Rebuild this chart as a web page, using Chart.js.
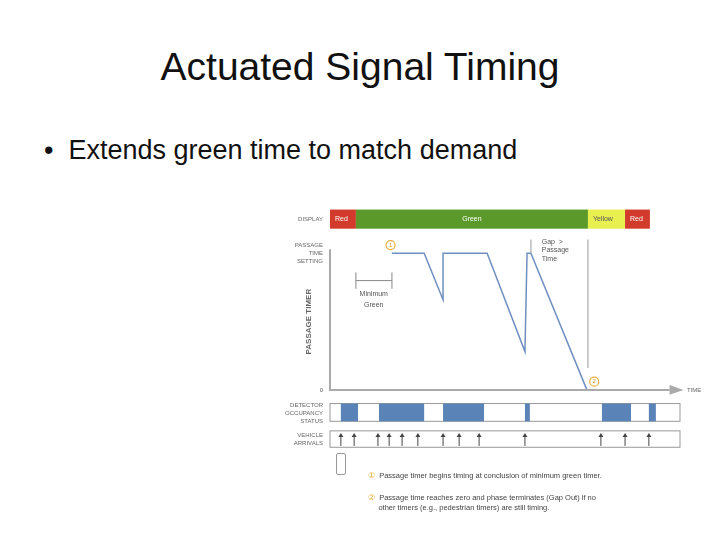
<!DOCTYPE html>
<html><head><meta charset="utf-8">
<script src="https://cdn.jsdelivr.net/npm/chart.js@4.4.0/dist/chart.umd.min.js"></script>
<style>
body{margin:0;width:720px;height:540px;background:#fff;overflow:hidden;font-family:"Liberation Sans",sans-serif;position:relative}
#title{position:absolute;top:45px;left:0;width:720px;text-align:center;font-size:39px;color:#111}
#bullet{position:absolute;top:135px;left:44px;font-size:27px;color:#111}
canvas{position:absolute;left:0;top:0}
</style></head><body>
<div id="title">Actuated Signal Timing</div>
<div id="bullet">•&nbsp; Extends green time to match demand</div>
<canvas id="c" width="720" height="540"></canvas>
<script>
// time units 0..100, passage timer 0..1
const timerT = [17.7, 26.9, 32.3, 32.3, 44.9, 55.7, 56.3, 57.4, 73.4];
const timerV = [1, 1, 0.66, 1, 1, 0.28, 1, 1, 0];
const phases = [['Red', 0, 7.4, '#d23a2c'], ['Green', 7.4, 73.7, '#5b9a2a'], ['Yellow', 73.7, 84.3, '#e8f050'], ['Red', 84.3, 91.4, '#d23a2c']];
const occupancy = [[3.1, 8.0], [14.0, 26.9], [32.3, 44.0], [55.7, 57.1], [77.7, 86.0], [91.1, 93.1]];
const arrivals = [3.1, 6.9, 13.7, 16.9, 20.6, 25.1, 32.3, 36.9, 42.6, 55.7, 77.4, 84.3, 91.1];

const deco = {
  id: 'deco',
  afterDatasetsDraw(chart) {
    const c = chart.ctx, x = chart.scales.x, y = chart.scales.y;
    const X = v => x.getPixelForValue(v), Y = v => y.getPixelForValue(v);
    c.save();
    c.textBaseline = 'middle';
    // display bar
    phases.forEach(p => {
      c.fillStyle = p[3];
      c.fillRect(X(p[1]), Y(1.32), X(p[2]) - X(p[1]), Y(1.18) - Y(1.32));
      c.fillStyle = p[0] == 'Yellow' ? '#555' : '#fff';
      c.font = '7px "Liberation Sans"';
      c.textAlign = p[0] == 'Green' ? 'center' : 'left';
      c.fillText(p[0], p[0] == 'Green' ? (X(p[1]) + X(p[2])) / 2 : X(p[1]) + 5, Y(1.25));
    });
    c.fillStyle = '#666';
    c.font = '6px "Liberation Sans"';
    c.textAlign = 'right';
    c.fillText('DISPLAY', X(-2), Y(1.25));
    c.fillText('PASSAGE', X(-2), Y(1.06));
    c.fillText('TIME', X(-2), Y(1.0));
    c.fillText('SETTING', X(-2), Y(0.94));
    c.fillText('0', X(-2), Y(0));
    ['DETECTOR', 'OCCUPANCY', 'STATUS'].forEach((t, i) => c.fillText(t, X(-2), Y(-0.11 - i * 0.06)));
    ['VEHICLE', 'ARRIVALS'].forEach((t, i) => c.fillText(t, X(-2), Y(-0.33 - i * 0.06)));
    c.textAlign = 'left';
    c.fillText('TIME', X(102), Y(0));
    // axes
    c.strokeStyle = '#aaa'; c.lineWidth = 2;
    c.beginPath(); c.moveTo(X(0), Y(1.03)); c.lineTo(X(0), Y(0)); c.lineTo(X(97), Y(0)); c.stroke();
    c.fillStyle = '#aaa';
    c.beginPath(); c.moveTo(X(97), Y(0.035)); c.lineTo(X(101), Y(0)); c.lineTo(X(97), Y(-0.035)); c.fill();
    c.lineWidth = 1.2;
    c.beginPath(); c.moveTo(X(73.7), Y(1.1)); c.lineTo(X(73.7), Y(0.16)); c.stroke();
    c.beginPath(); c.moveTo(X(57.4), Y(1.1)); c.lineTo(X(57.4), Y(1.0)); c.stroke();
    // rotated label
    c.save();
    c.translate(X(-6), Y(0.5)); c.rotate(-Math.PI / 2);
    c.fillStyle = '#666'; c.font = 'bold 8px "Liberation Sans"'; c.textAlign = 'center';
    c.fillText('PASSAGE TIMER', 0, 0);
    c.restore();
    // minimum green
    c.strokeStyle = '#888'; c.lineWidth = 1;
    c.beginPath(); c.moveTo(X(7.4), Y(0.8)); c.lineTo(X(17.7), Y(0.8));
    c.moveTo(X(7.4), Y(0.86)); c.lineTo(X(7.4), Y(0.74));
    c.moveTo(X(17.7), Y(0.86)); c.lineTo(X(17.7), Y(0.74)); c.stroke();
    c.fillStyle = '#555'; c.font = '7px "Liberation Sans"'; c.textAlign = 'center';
    c.fillText('Minimum', X(12.5), Y(0.7));
    c.fillText('Green', X(12.5), Y(0.62));
    c.textAlign = 'left';
    c.fillText('Gap  >', X(60.5), Y(1.08));
    c.fillText('Passage', X(60.5), Y(1.02));
    c.fillText('Time', X(60.5), Y(0.96));
    // circled numbers
    [[17.3, 1.06, '1'], [75.5, 0.06, '2']].forEach(n => {
      c.strokeStyle = '#e8b040'; c.lineWidth = 1.2;
      c.beginPath(); c.arc(X(n[0]), Y(n[1]), 4.5, 0, Math.PI * 2); c.stroke();
      c.fillStyle = '#d09020'; c.font = '6px "Liberation Sans"'; c.textAlign = 'center';
      c.fillText(n[2], X(n[0]), Y(n[1]));
    });
    // detector band
    c.strokeStyle = '#999'; c.lineWidth = 1;
    c.strokeRect(X(0), Y(-0.10), X(100) - X(0), Y(-0.23) - Y(-0.10));
    c.fillStyle = '#5a84b8';
    occupancy.forEach(o => c.fillRect(X(o[0]), Y(-0.10), X(o[1]) - X(o[0]), Y(-0.23) - Y(-0.10)));
    // arrivals band
    c.strokeRect(X(0), Y(-0.30), X(100) - X(0), Y(-0.42) - Y(-0.30));
    c.strokeStyle = '#444'; c.fillStyle = '#444';
    arrivals.forEach(a => {
      c.beginPath(); c.moveTo(X(a), Y(-0.41)); c.lineTo(X(a), Y(-0.34)); c.stroke();
      c.beginPath(); c.moveTo(X(a) - 2.5, Y(-0.345)); c.lineTo(X(a), Y(-0.315)); c.lineTo(X(a) + 2.5, Y(-0.345)); c.fill();
    });
    c.restore();
  }
};

new Chart(document.getElementById('c'), {
  type: 'scatter',
  data: { datasets: [{ data: timerT.map((t, i) => ({ x: t, y: timerV[i] })), showLine: true, borderColor: '#6f8fc0', borderWidth: 1.5, pointRadius: 0, tension: 0 }] },
  options: {
    responsive: false, animation: false,
    layout: { padding: { left: 330, right: 40, top: 200, bottom: 90 } },
    plugins: { legend: { display: false }, tooltip: { enabled: false } },
    scales: { x: { type: 'linear', min: 0, max: 100, display: false }, y: { min: -0.44, max: 1.39, display: false } }
  },
  plugins: [deco]
});
</script>
<div style="position:absolute;left:368px;top:471px;font-size:7.5px;color:#444;line-height:10px">
<span style="color:#e8b040">①</span>&nbsp; Passage timer begins timing at conclusion of minimum green timer.</div>
<div style="position:absolute;left:368px;top:493px;font-size:7.5px;color:#444;line-height:10px">
<span style="color:#e8b040">②</span>&nbsp; Passage time reaches zero and phase terminates (Gap Out) if no<br>&nbsp;&nbsp;&nbsp;&nbsp;&nbsp;other timers (e.g., pedestrian timers) are still timing.</div>
<div style="position:absolute;left:336px;top:453px;width:8px;height:20px;border:1px solid #999;border-radius:2px"></div>
</body></html>
